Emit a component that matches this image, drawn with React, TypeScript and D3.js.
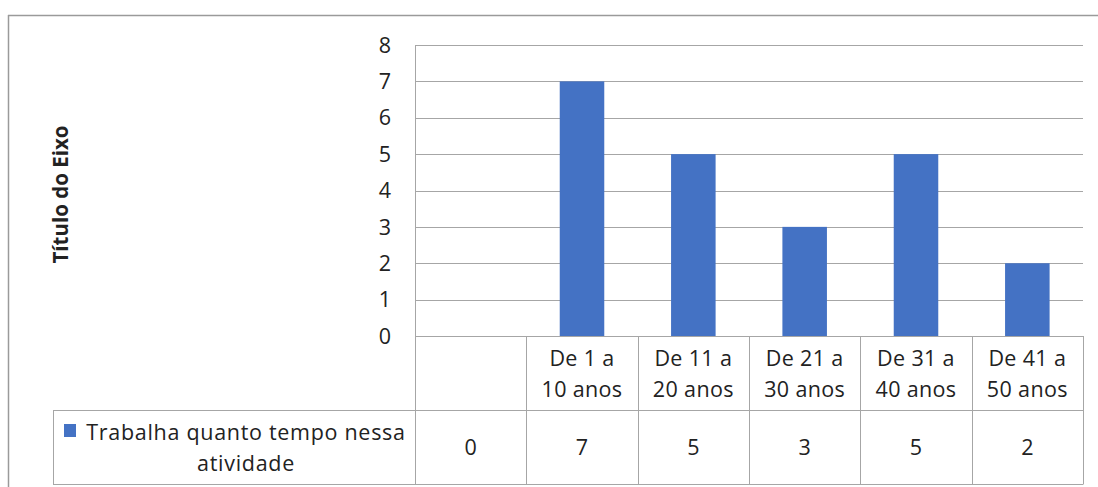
import React from "react";
import * as d3 from "d3";

const categories = ["", "De 1 a|10 anos", "De 11 a|20 anos", "De 21 a|30 anos", "De 31 a|40 anos", "De 41 a|50 anos"];
const values = [0, 7, 5, 3, 5, 2];
const yTicks = [0, 1, 2, 3, 4, 5, 6, 7, 8];
const seriesName = ["Trabalha quanto tempo nessa", "atividade"];
const axisTitle = "Título do Eixo";

const W = 1098;
const H = 487;
const FONT = "'Open Sans', 'Noto Sans', sans-serif";
const TEXT = "#222";
const GRID = "#a6a6a6";
const BAR = "#4472C4";
const FS = 21.5;
const LS = 0.7;

export default function App() {
  const plotLeft = 415;
  const plotRight = 1083;
  const plotTop = 45;
  const plotBottom = 336;
  const headerBottom = 410.5;
  const tableBottom = 484.5;
  const legendLeft = 53;

  const x = d3.scaleBand<number>().domain(d3.range(categories.length)).range([plotLeft, plotRight]);
  const y = d3.scaleLinear().domain([0, 8]).range([plotBottom, plotTop]);
  const bw = x.bandwidth() / 2.5;

  return (
    <svg width={W} height={H} style={{ position: "fixed", left: 0, top: 0, background: "#fff" }} fontFamily={FONT}>
      <rect x={0} y={0} width={W} height={H} fill="#fff" />
      {/* chart frame */}
      <line x1={8.5} x2={8.5} y1={15} y2={H} stroke="#9a9a9a" strokeWidth={1.5} />
      <line x1={8} x2={W} y1={15.5} y2={15.5} stroke="#9a9a9a" strokeWidth={1.5} />

      {/* gridlines */}
      {yTicks.map((t) => (
        <line key={t} x1={plotLeft} x2={plotRight} y1={Math.round(y(t)) + 0.5} y2={Math.round(y(t)) + 0.5} stroke={GRID} strokeWidth={1} />
      ))}
      <line x1={plotLeft + 0.5} x2={plotLeft + 0.5} y1={plotTop} y2={tableBottom} stroke={GRID} />

      {/* y tick labels */}
      {yTicks.map((t) => (
        <text key={t} x={391} y={y(t)} dy="0.36em" textAnchor="end" fontSize={FS} fill={TEXT}>
          {t}
        </text>
      ))}

      {/* axis title */}
      <text
        transform={`translate(68,${(plotTop + plotBottom) / 2 + 4}) rotate(-90)`}
        textAnchor="middle"
        fontSize={20.5}
        fontWeight="bold"
        fill={TEXT}
      >
        {axisTitle}
      </text>

      {/* bars */}
      {values.map((v, i) => (
        <rect
          key={i}
          x={(x(i) as number) + (x.bandwidth() - bw) / 2}
          y={y(v)}
          width={bw}
          height={y(0) - y(v)}
          fill={BAR}
        />
      ))}

      {/* data table */}
      <line x1={legendLeft} x2={plotRight} y1={headerBottom} y2={headerBottom} stroke={GRID} />
      <line x1={legendLeft} x2={plotRight} y1={tableBottom} y2={tableBottom} stroke={GRID} />
      <line x1={legendLeft + 0.5} x2={legendLeft + 0.5} y1={headerBottom} y2={tableBottom} stroke={GRID} />
      {categories.map((_, i) => (
        <line
          key={i}
          x1={Math.round((x(i) as number) + x.bandwidth()) + 0.5}
          x2={Math.round((x(i) as number) + x.bandwidth()) + 0.5}
          y1={plotBottom}
          y2={tableBottom}
          stroke={GRID}
        />
      ))}
      {categories.map((c, i) => {
        const cx = (x(i) as number) + x.bandwidth() / 2;
        const lines = c ? c.split("|") : [];
        return (
          <g key={i}>
            {lines.map((l, j) => (
              <text key={j} x={cx} y={358 + j * 31} dy="0.36em" textAnchor="middle" fontSize={FS} letterSpacing={LS * 0.5} fill={TEXT}>
                {l}
              </text>
            ))}
            <text x={cx} y={447} dy="0.36em" textAnchor="middle" fontSize={FS} fill={TEXT}>
              {values[i]}
            </text>
          </g>
        );
      })}

      {/* legend key */}
      <rect x={64} y={424} width={12} height={13} fill={BAR} />
      {seriesName.map((l, j) => (
        <text key={j} x={246} y={432 + j * 31} dy="0.36em" textAnchor="middle" fontSize={FS} letterSpacing={LS} fill={TEXT}>
          {l}
        </text>
      ))}
    </svg>
  );
}
